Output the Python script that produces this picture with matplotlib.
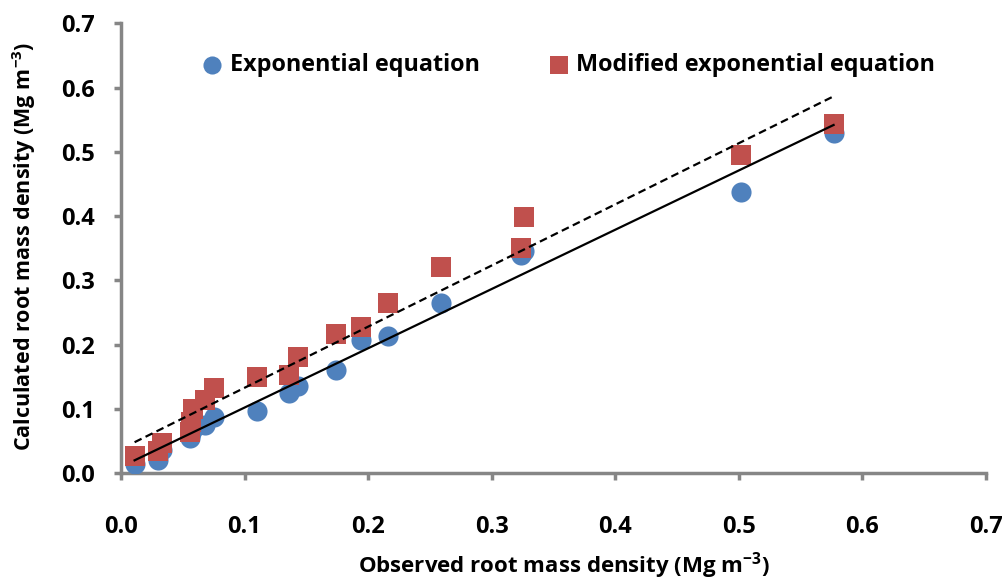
import matplotlib.pyplot as plt
import numpy as np

plt.rcParams['font.family'] = ['Open Sans', 'DejaVu Sans']
plt.rcParams['font.weight'] = 'bold'
plt.rcParams['mathtext.fontset'] = 'custom'
plt.rcParams['mathtext.rm'] = 'Open Sans:bold'
plt.rcParams['mathtext.default'] = 'rm'

# observed root mass density (Mg m-3)
observed = [0.011, 0.030, 0.033, 0.056, 0.057, 0.058, 0.068, 0.075, 0.110, 0.136,
            0.143, 0.174, 0.194, 0.216, 0.259, 0.324, 0.326, 0.502, 0.577]
# calculated values from the two equations
exponential = [0.014, 0.020, 0.036, 0.055, 0.062, 0.068, 0.075, 0.087, 0.097, 0.124,
               0.136, 0.160, 0.207, 0.214, 0.265, 0.340, 0.345, 0.437, 0.530]
modified = [0.026, 0.034, 0.047, 0.064, 0.080, 0.099, 0.114, 0.133, 0.150, 0.153,
            0.181, 0.217, 0.228, 0.264, 0.321, 0.351, 0.398, 0.495, 0.544]

blue = '#4F81BD'
red = '#C0504D'
grey = '#868686'

fig = plt.figure(figsize=(10.05, 5.8), dpi=100)
ax = fig.add_axes([0.1204, 0.1845, 0.8602, 0.775])

x = np.array(observed)
ax.scatter(x, exponential, s=210, marker='o', color=blue, linewidths=0,
           label='Exponential equation', zorder=3)
ax.scatter(x, modified, s=210, marker='s', color=red, linewidths=0,
           label='Modified exponential equation', zorder=4)

# linear trendlines over the observed range
xs = np.array([x.min(), x.max()])
m1, c1 = np.polyfit(x, exponential, 1)
m2, c2 = np.polyfit(x, modified, 1)
ax.plot(xs, m1 * xs + c1, color='black', lw=1.6, zorder=5)
ax.plot(xs, m2 * xs + c2, color='black', lw=1.6, ls=(0, (3.5, 2)), zorder=5)

ax.set_xlim(0, 0.7)
ax.set_ylim(0, 0.7)
ticks = np.arange(0, 0.71, 0.1)
ax.set_xticks(ticks)
ax.set_yticks(ticks)
ax.set_xticklabels(['%.1f' % t for t in ticks])
ax.set_yticklabels(['%.1f' % t for t in ticks])

for side in ['top', 'right']:
    ax.spines[side].set_visible(False)
for side in ['left', 'bottom']:
    ax.spines[side].set_color(grey)
    ax.spines[side].set_linewidth(2.5)
ax.tick_params(axis='both', color=grey, width=2.5, length=5, labelsize=17)
ax.tick_params(axis='x', pad=25)
ax.tick_params(axis='y', pad=14)

ax.set_xlabel('Observed root mass density (Mg m$^{-3}$)', fontsize=16,
              fontweight='bold')
ax.set_ylabel('Calculated root mass density (Mg m$^{-3}$)', fontsize=15.5,
              fontweight='bold')
ax.xaxis.set_label_coords(0.512, -0.172)
ax.yaxis.set_label_coords(-0.096, 0.505)

ax.legend(loc='center', bbox_to_anchor=(0.517, 0.908), ncol=2, frameon=False,
          fontsize=16.8, handlelength=1.0, handletextpad=0.25, columnspacing=2.9,
          markerscale=0.9)

plt.savefig('out.png', dpi=100)
